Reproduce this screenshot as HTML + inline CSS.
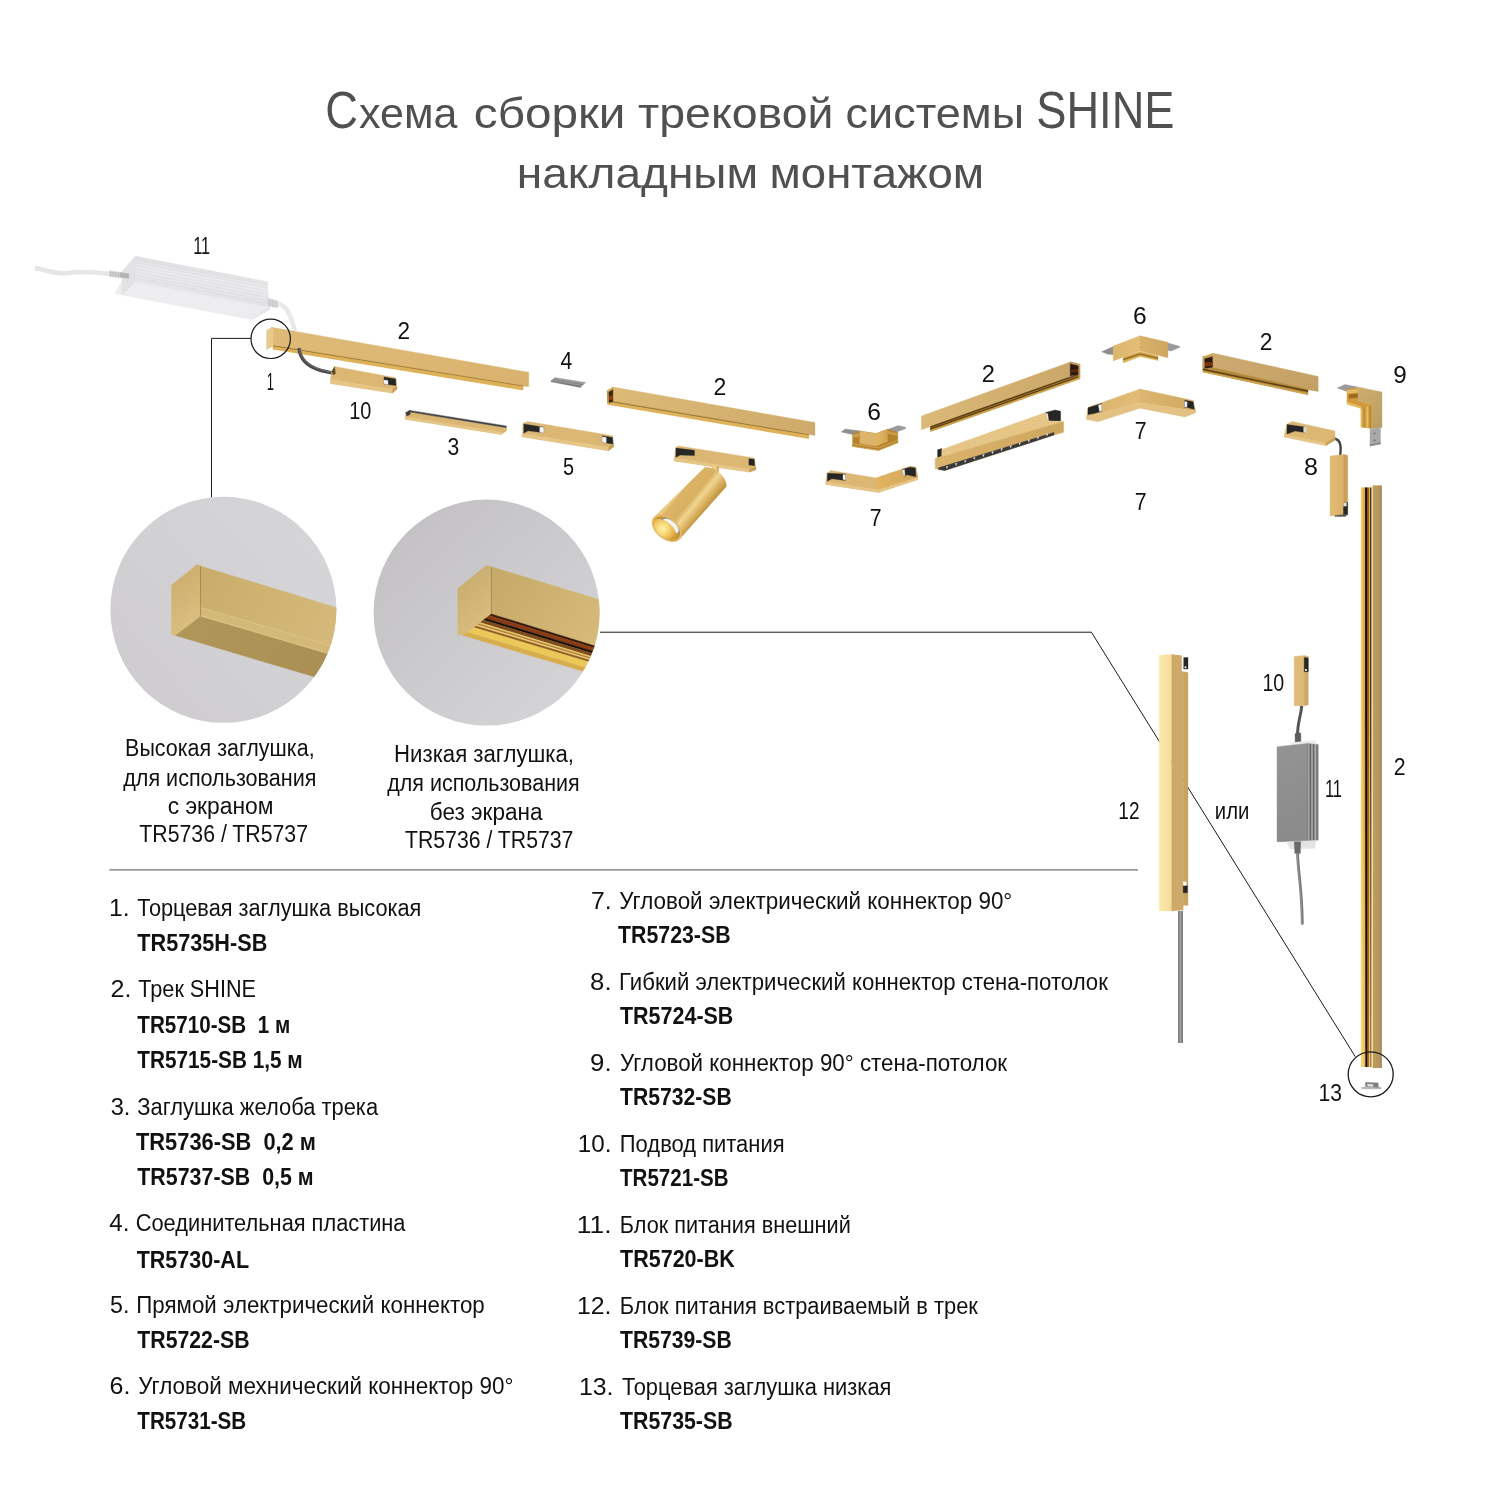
<!DOCTYPE html>
<html lang="ru"><head><meta charset="utf-8"><title>Схема сборки трековой системы SHINE</title>
<style>
html,body{margin:0;padding:0;background:#fff;}
body{width:1500px;height:1500px;overflow:hidden;font-family:"Liberation Sans", sans-serif;}
svg{display:block;font-family:"Liberation Sans", sans-serif;will-change:transform;}
</style></head><body>
<svg width="1500" height="1500" viewBox="0 0 1500 1500">
<defs><clipPath id="c1"><circle cx="223.4" cy="609.8" r="113"/></clipPath><clipPath id="c2"><circle cx="486.6" cy="612.6" r="113"/></clipPath><linearGradient id="c1bg" gradientUnits="userSpaceOnUse" x1="120" y1="700" x2="330" y2="520"><stop offset="0" stop-color="#cecccf"/><stop offset="1" stop-color="#d6d5d8"/></linearGradient><linearGradient id="c2bg" gradientUnits="userSpaceOnUse" x1="400" y1="520" x2="580" y2="710"><stop offset="0" stop-color="#c3c1c4"/><stop offset="1" stop-color="#d5d4d7"/></linearGradient><linearGradient id="c1e" gradientUnits="userSpaceOnUse" x1="172" y1="590" x2="200" y2="625"><stop offset="0" stop-color="#cfb272"/><stop offset="1" stop-color="#dcc081"/></linearGradient><linearGradient id="c1u" gradientUnits="userSpaceOnUse" x1="200" y1="570" x2="340" y2="640"><stop offset="0" stop-color="#c8ad6a"/><stop offset="1" stop-color="#d6ba7b"/></linearGradient><linearGradient id="c1b" gradientUnits="userSpaceOnUse" x1="180" y1="630" x2="330" y2="680"><stop offset="0" stop-color="#b19659"/><stop offset="1" stop-color="#a98f53"/></linearGradient><linearGradient id="c2e" gradientUnits="userSpaceOnUse" x1="458" y1="590" x2="491" y2="625"><stop offset="0" stop-color="#caaf70"/><stop offset="1" stop-color="#dbbf80"/></linearGradient><linearGradient id="c2u" gradientUnits="userSpaceOnUse" x1="491" y1="570" x2="600" y2="640"><stop offset="0" stop-color="#c5a967"/><stop offset="1" stop-color="#d7bb7b"/></linearGradient><linearGradient id="psuT" gradientUnits="userSpaceOnUse" x1="135" y1="258" x2="131" y2="282"><stop offset="0" stop-color="#e1e1e4"/><stop offset="0.35" stop-color="#ebebed"/><stop offset="1" stop-color="#e4e4e7"/></linearGradient><linearGradient id="t1" gradientUnits="userSpaceOnUse" x1="272" y1="330" x2="528" y2="380"><stop offset="0" stop-color="#dfba77"/><stop offset="1" stop-color="#d9b36e"/></linearGradient><linearGradient id="t2" gradientUnits="userSpaceOnUse" x1="613" y1="390" x2="815" y2="430"><stop offset="0" stop-color="#ddb976"/><stop offset="1" stop-color="#ceab6b"/></linearGradient><linearGradient id="stem" gradientUnits="userSpaceOnUse" x1="712" y1="0" x2="718.6" y2="0"><stop offset="0" stop-color="#e9c46f"/><stop offset="0.5" stop-color="#f3d58c"/><stop offset="1" stop-color="#c99a42"/></linearGradient><linearGradient id="cyl" gradientUnits="userSpaceOnUse" x1="679" y1="492.5" x2="703.5" y2="512.5"><stop offset="0" stop-color="#ecca82"/><stop offset="0.07" stop-color="#dcb466"/><stop offset="0.45" stop-color="#d9b062"/><stop offset="0.62" stop-color="#f0d692"/><stop offset="0.76" stop-color="#e2bd70"/><stop offset="0.9" stop-color="#cfa552"/><stop offset="1" stop-color="#c39644"/></linearGradient><clipPath id="spotc"><ellipse cx="0" cy="0.2" rx="15.5" ry="9.5"/></clipPath><radialGradient id="cylw" gradientUnits="userSpaceOnUse" cx="-3" cy="3" r="14"><stop offset="0" stop-color="#fff2a2"/><stop offset="0.45" stop-color="#f6d676"/><stop offset="0.85" stop-color="#e2ae4a"/><stop offset="1" stop-color="#d39a3a"/></radialGradient><linearGradient id="c6r" gradientUnits="userSpaceOnUse" x1="876" y1="0" x2="888" y2="0"><stop offset="0" stop-color="#e4b860"/><stop offset="1" stop-color="#cfa458"/></linearGradient><linearGradient id="c7r" gradientUnits="userSpaceOnUse" x1="876" y1="0" x2="918" y2="0"><stop offset="0" stop-color="#e2b45e"/><stop offset="1" stop-color="#d3a85e"/></linearGradient><linearGradient id="t3" gradientUnits="userSpaceOnUse" x1="921" y1="420" x2="1070" y2="368"><stop offset="0" stop-color="#dbb979"/><stop offset="1" stop-color="#caa869"/></linearGradient><linearGradient id="ll" gradientUnits="userSpaceOnUse" x1="935" y1="462" x2="1063" y2="426"><stop offset="0" stop-color="#dab36c"/><stop offset="1" stop-color="#cfa65e"/></linearGradient><linearGradient id="c62l" gradientUnits="userSpaceOnUse" x1="1113" y1="0" x2="1140" y2="0"><stop offset="0" stop-color="#dcb56e"/><stop offset="1" stop-color="#e4be78"/></linearGradient><linearGradient id="c62r" gradientUnits="userSpaceOnUse" x1="1140" y1="0" x2="1168" y2="0"><stop offset="0" stop-color="#d8b06a"/><stop offset="1" stop-color="#cfa660"/></linearGradient><linearGradient id="c72l" gradientUnits="userSpaceOnUse" x1="1088" y1="0" x2="1140" y2="0"><stop offset="0" stop-color="#d9b26c"/><stop offset="1" stop-color="#e3bd78"/></linearGradient><linearGradient id="c72r" gradientUnits="userSpaceOnUse" x1="1140" y1="0" x2="1195" y2="0"><stop offset="0" stop-color="#dcb670"/><stop offset="1" stop-color="#d0a862"/></linearGradient><linearGradient id="t4" gradientUnits="userSpaceOnUse" x1="1212" y1="356" x2="1318" y2="384"><stop offset="0" stop-color="#cdab70"/><stop offset="1" stop-color="#c3a165"/></linearGradient><linearGradient id="p9c" gradientUnits="userSpaceOnUse" x1="1361" y1="0" x2="1372.5" y2="0"><stop offset="0" stop-color="#e6bc62"/><stop offset="0.3" stop-color="#c08a30"/><stop offset="0.55" stop-color="#e8c068"/><stop offset="0.8" stop-color="#b88228"/><stop offset="1" stop-color="#d9ae55"/></linearGradient><linearGradient id="p9f" gradientUnits="userSpaceOnUse" x1="1358" y1="390" x2="1382" y2="425"><stop offset="0" stop-color="#cdac70"/><stop offset="1" stop-color="#bd9d61"/></linearGradient><linearGradient id="p8v" gradientUnits="userSpaceOnUse" x1="1330" y1="0" x2="1344" y2="0"><stop offset="0" stop-color="#e3bc74"/><stop offset="1" stop-color="#d9b068"/></linearGradient><linearGradient id="vtl" gradientUnits="userSpaceOnUse" x1="1360.8" y1="0" x2="1371.6" y2="0"><stop offset="0" stop-color="#fbe08a"/><stop offset="0.07" stop-color="#f7cc52"/><stop offset="0.2" stop-color="#f0c04c"/><stop offset="0.24" stop-color="#dbb270"/><stop offset="0.4" stop-color="#c89a54"/><stop offset="0.44" stop-color="#1a0a02"/><stop offset="0.55" stop-color="#1a0a02"/><stop offset="0.57" stop-color="#8c4c1a"/><stop offset="0.72" stop-color="#a2601e"/><stop offset="0.75" stop-color="#e8b252"/><stop offset="0.85" stop-color="#e8b252"/><stop offset="0.88" stop-color="#46362a"/><stop offset="1" stop-color="#46362a"/></linearGradient><linearGradient id="vtr" gradientUnits="userSpaceOnUse" x1="1371.6" y1="0" x2="1381.9" y2="0"><stop offset="0" stop-color="#f7e09a"/><stop offset="0.14" stop-color="#f0d488"/><stop offset="0.18" stop-color="#bc9e64"/><stop offset="0.7" stop-color="#b3945c"/><stop offset="1" stop-color="#a68a54"/></linearGradient><linearGradient id="vtb" gradientUnits="userSpaceOnUse" x1="0" y1="880" x2="0" y2="1067"><stop offset="0" stop-color="#fff2b0"/><stop offset="1" stop-color="#fff2b0"/></linearGradient><linearGradient id="vfade" gradientUnits="userSpaceOnUse" x1="0" y1="700" x2="0" y2="1067"><stop offset="0" stop-color="#ffe68a" stop-opacity="0"/><stop offset="1" stop-color="#ffe68a" stop-opacity="0.45"/></linearGradient><linearGradient id="p12l" gradientUnits="userSpaceOnUse" x1="1159" y1="0" x2="1171.7" y2="0"><stop offset="0" stop-color="#fce8ac"/><stop offset="1" stop-color="#f6dc9a"/></linearGradient><linearGradient id="cab12" gradientUnits="userSpaceOnUse" x1="1178.1" y1="0" x2="1182.9" y2="0"><stop offset="0" stop-color="#6a6a6a"/><stop offset="0.5" stop-color="#a2a2a2"/><stop offset="1" stop-color="#666"/></linearGradient><linearGradient id="psug" gradientUnits="userSpaceOnUse" x1="1277" y1="750" x2="1307" y2="840"><stop offset="0" stop-color="#939393"/><stop offset="1" stop-color="#8a8a8a"/></linearGradient><linearGradient id="ribs" gradientUnits="userSpaceOnUse" x1="1307.5" y1="0" x2="1318.3" y2="0"><stop offset="0" stop-color="#6a6a6a"/><stop offset="0.12" stop-color="#b4b4b4"/><stop offset="0.26" stop-color="#5c5c5c"/><stop offset="0.42" stop-color="#b8b8b8"/><stop offset="0.56" stop-color="#606060"/><stop offset="0.72" stop-color="#bcbcbc"/><stop offset="0.86" stop-color="#6e6e6e"/><stop offset="1" stop-color="#8a8a8a"/></linearGradient></defs>
<line x1="109.3" y1="869.9" x2="1138" y2="869.9" stroke="#707070" stroke-width="1.4"/>
<path d="M251,338.4 H211.5 V497.5" fill="none" stroke="#1a1a1a" stroke-width="1.0"/>
<path d="M600,632.2 H1091.4 L1355.3,1056.7" fill="none" stroke="#1a1a1a" stroke-width="1.0"/>
<circle cx="223.4" cy="609.8" r="113" fill="url(#c1bg)"/>
<circle cx="486.6" cy="612.6" r="113" fill="url(#c2bg)"/>
<g clip-path="url(#c1)">
<polygon points="171.4,585.2 197.0,564.4 200.5,566.0 200.5,616.4 175.4,635.6 171.4,634.8" fill="url(#c1e)" stroke="url(#c1e)" stroke-width="0.35" stroke-linejoin="round" />
<polygon points="200.5,566.0 345.0,610.1 345.0,649.7 200.5,607.6" fill="url(#c1u)" stroke="url(#c1u)" stroke-width="0.35" stroke-linejoin="round" />
<polygon points="200.5,607.6 345.0,649.7 345.0,659.2 200.5,616.4" fill="#d4b878" stroke="#d4b878" stroke-width="0.35" stroke-linejoin="round" />
<polygon points="200.5,615.6 345.0,658.4 345.0,659.4 200.5,616.6" fill="#e6cf92" stroke="#e6cf92" stroke-width="0.35" stroke-linejoin="round" />
<polygon points="200.5,607.3 345.0,649.4 345.0,650.0 200.5,607.9" fill="#dcc488" stroke="#dcc488" stroke-width="0.35" stroke-linejoin="round" />
<polygon points="175.4,635.6 200.5,616.4 345.0,659.2 345.0,685.9" fill="url(#c1b)" stroke="url(#c1b)" stroke-width="0.35" stroke-linejoin="round" />
<line x1="200.5" y1="566" x2="200.5" y2="616.4" stroke="#8d7540" stroke-width="0.6"/>
</g>
<g clip-path="url(#c2)">
<polygon points="457.8,588.4 486.6,565.2 491.4,566.8 491.4,614.0 463.4,635.6 457.8,634.8" fill="url(#c2e)" stroke="url(#c2e)" stroke-width="0.35" stroke-linejoin="round" />
<polygon points="491.4,566.8 610.0,602.9 610.0,650.5 491.4,614.0" fill="url(#c2u)" stroke="url(#c2u)" stroke-width="0.35" stroke-linejoin="round" />
<polygon points="491.4,614.0 610.0,650.5 610.0,652.7 489.3,615.6" fill="#3a1a0a" stroke="#3a1a0a" stroke-width="0.35" stroke-linejoin="round" />
<polygon points="489.3,615.6 610.0,652.7 610.0,656.5 485.5,618.5" fill="#8a3c14" stroke="#8a3c14" stroke-width="0.35" stroke-linejoin="round" />
<polygon points="485.5,618.5 610.0,656.5 610.0,658.6 483.6,620.0" fill="#140c06" stroke="#140c06" stroke-width="0.35" stroke-linejoin="round" />
<polygon points="483.6,620.0 610.0,658.6 610.0,662.0 480.2,622.6" fill="#7c4c1a" stroke="#7c4c1a" stroke-width="0.35" stroke-linejoin="round" />
<polygon points="480.2,622.6 610.0,662.0 610.0,663.5 478.8,623.7" fill="#ecc870" stroke="#ecc870" stroke-width="0.35" stroke-linejoin="round" />
<polygon points="478.8,623.7 610.0,663.5 610.0,664.9 477.4,624.8" fill="#b07c28" stroke="#b07c28" stroke-width="0.35" stroke-linejoin="round" />
<polygon points="477.4,624.8 610.0,664.9 610.0,666.3 476.0,625.9" fill="#f0d080" stroke="#f0d080" stroke-width="0.35" stroke-linejoin="round" />
<polygon points="476.0,625.9 610.0,666.3 610.0,668.3 474.0,627.4" fill="#8e5e1e" stroke="#8e5e1e" stroke-width="0.35" stroke-linejoin="round" />
<polygon points="474.0,627.4 610.0,668.3 610.0,675.0 467.6,632.4" fill="#ecc858" stroke="#ecc858" stroke-width="0.35" stroke-linejoin="round" />
<polygon points="467.6,632.4 610.0,675.0 610.0,679.3 463.4,635.6" fill="#d8ae4c" stroke="#d8ae4c" stroke-width="0.35" stroke-linejoin="round" />
<line x1="491.4" y1="566.8" x2="491.4" y2="614" stroke="#8d7540" stroke-width="0.6"/>
</g>
<path d="M35,268 C48,270 55,275 68,273 S95,272 110,274" stroke="#e6e6e6" stroke-width="4.6" fill="none" stroke-linecap="butt"/>
<path d="M277,303.5 C288,305 291,318 295,331" stroke="#e9e9e9" stroke-width="4.6" fill="none"/>
<polygon points="114.7,293.7 252.0,319.7 270.5,309.0 267.3,281.7 135.3,256.3 131.5,260.0 122.0,281.0" fill="#ededef" stroke="#ededef" stroke-width="0.35" stroke-linejoin="round" />
<polygon points="135.3,256.3 267.3,281.7 267.3,307.0 135.3,281.5" fill="url(#psuT)" stroke="url(#psuT)" stroke-width="0.35" stroke-linejoin="round" />
<polygon points="135.3,256.3 122.0,271.6 122.0,295.0 135.3,281.5" fill="#e3e3e6" stroke="#e3e3e6" stroke-width="0.35" stroke-linejoin="round" />
<line x1="135.5" y1="259.4" x2="267.3" y2="284.8" stroke="#dadadd" stroke-width="0.6"/>
<line x1="135.5" y1="262.5" x2="267.3" y2="287.9" stroke="#dadadd" stroke-width="0.6"/>
<line x1="135.5" y1="265.6" x2="267.3" y2="291.0" stroke="#dadadd" stroke-width="0.6"/>
<line x1="135.5" y1="268.7" x2="267.3" y2="294.1" stroke="#dadadd" stroke-width="0.6"/>
<line x1="135.5" y1="271.8" x2="267.3" y2="297.2" stroke="#dadadd" stroke-width="0.6"/>
<line x1="135.5" y1="274.9" x2="267.3" y2="300.3" stroke="#dadadd" stroke-width="0.6"/>
<line x1="135.5" y1="278.0" x2="267.3" y2="303.4" stroke="#dadadd" stroke-width="0.6"/>
<polygon points="252.0,319.7 267.3,307.0 270.5,309.0" fill="#e6e6e9" stroke="#e6e6e9" stroke-width="0.35" stroke-linejoin="round" />
<polygon points="109.3,271.0 128.7,273.7 128.7,278.3 109.3,276.3" fill="#cdcdcd" stroke="#cdcdcd" stroke-width="0.35" stroke-linejoin="round" />
<polygon points="120.0,272.4 128.7,273.7 128.7,278.3 120.0,277.3" fill="#b4b4b4" stroke="#b4b4b4" stroke-width="0.35" stroke-linejoin="round" />
<line x1="110.5" y1="270.6" x2="110.5" y2="277.0" stroke="#bdbdbd" stroke-width="0.8"/>
<line x1="113.1" y1="271.0" x2="113.1" y2="277.4" stroke="#bdbdbd" stroke-width="0.8"/>
<line x1="115.7" y1="271.3" x2="115.7" y2="277.7" stroke="#bdbdbd" stroke-width="0.8"/>
<line x1="118.3" y1="271.7" x2="118.3" y2="278.1" stroke="#bdbdbd" stroke-width="0.8"/>
<polygon points="267.3,298.3 278.0,301.0 278.0,307.7 267.3,305.7" fill="#d6d6d6" stroke="#d6d6d6" stroke-width="0.35" stroke-linejoin="round" />
<line x1="270.0" y1="298.6" x2="270.0" y2="306.6" stroke="#c4c4c4" stroke-width="0.8"/>
<line x1="272.6" y1="299.2" x2="272.6" y2="307.2" stroke="#c4c4c4" stroke-width="0.8"/>
<line x1="275.2" y1="299.9" x2="275.2" y2="307.9" stroke="#c4c4c4" stroke-width="0.8"/>
<polygon points="271.5,327.2 528.8,372.3 528.8,386.8 523.0,386.0 523.0,390.0 273.0,349.0 273.0,345.0" fill="url(#t1)" stroke="url(#t1)" stroke-width="0.35" stroke-linejoin="round" />
<polygon points="273.0,345.5 523.0,385.8 523.0,386.6 273.0,346.5" fill="#9a7432" stroke="#9a7432" stroke-width="0.35" stroke-linejoin="round" />
<polygon points="273.0,346.6 523.0,386.6 523.0,390.0 273.0,349.2" fill="#DEB258" stroke="#DEB258" stroke-width="0.35" stroke-linejoin="round" />
<polygon points="266.5,330.5 271.5,327.2 273.0,328.0 273.0,346.0 266.5,349.7" fill="#e7ca8e" stroke="#e7ca8e" stroke-width="0.35" stroke-linejoin="round" />
<path d="M299,348 C300,360 309,367 321,370.5 L333,373.2" stroke="#4a4a4a" stroke-width="3.4" fill="none"/>
<path d="M299.6,348 C300.6,359.5 309.5,366.2 321.3,369.7 L333,372.4" stroke="#777" stroke-width="0.9" fill="none"/>
<polygon points="334.5,366.5 396.0,377.8 397.0,389.0 392.5,393.0 330.5,383.5 330.5,379.0 332.0,371.0" fill="#DCB774" stroke="#DCB774" stroke-width="0.35" stroke-linejoin="round" />
<polygon points="330.5,379.2 392.5,389.6 392.5,393.0 330.5,383.5" fill="#E6C687" stroke="#E6C687" stroke-width="0.35" stroke-linejoin="round" />
<polygon points="392.5,389.6 396.9,386.3 397.0,389.0 392.5,393.0" fill="#C59E58" stroke="#C59E58" stroke-width="0.35" stroke-linejoin="round" />
<polygon points="384.0,377.0 395.6,379.0 396.0,385.6 384.0,384.0" fill="#262626" stroke="#262626" stroke-width="0.35" stroke-linejoin="round" />
<polygon points="384.0,380.0 388.0,380.6 388.0,384.4 384.0,383.8" fill="#f2f2f2" stroke="#f2f2f2" stroke-width="0.35" stroke-linejoin="round" />
<polygon points="332.0,371.0 334.5,366.8 335.5,373.5 333.0,375.0" fill="#5b4a2a" stroke="#5b4a2a" stroke-width="0.35" stroke-linejoin="round" />
<polygon points="405.4,415.2 410.2,411.7 506.2,427.7 507.0,430.4 501.4,434.4 405.4,419.2" fill="#DCB774" stroke="#DCB774" stroke-width="0.35" stroke-linejoin="round" />
<polygon points="405.4,416.8 501.4,432.0 501.4,434.4 405.4,419.2" fill="#E6C687" stroke="#E6C687" stroke-width="0.35" stroke-linejoin="round" />
<polygon points="410.2,410.4 506.4,425.9 506.4,427.7 410.2,412.1" fill="#444" stroke="#444" stroke-width="0.35" stroke-linejoin="round" />
<polygon points="405.4,412.8 410.2,410.1 410.2,414.4 406.8,416.0" fill="#3c3c3c" stroke="#3c3c3c" stroke-width="0.35" stroke-linejoin="round" />
<polygon points="551.0,380.8 555.0,377.6 585.7,382.4 580.6,387.2" fill="#9b9b9b" stroke="#9b9b9b" stroke-width="0.35" stroke-linejoin="round" />
<polygon points="551.0,380.8 580.6,386.0 580.6,387.4 551.0,381.8" fill="#777" stroke="#777" stroke-width="0.35" stroke-linejoin="round" />
<line x1="553" y1="379.3" x2="583" y2="384.6" stroke="#7e7e7e" stroke-width="0.8"/>
<polygon points="523.0,423.2 527.8,421.6 612.6,435.7 613.9,446.4 608.6,450.7 522.2,436.8" fill="#DCB774" stroke="#DCB774" stroke-width="0.35" stroke-linejoin="round" />
<polygon points="522.2,433.4 608.6,447.3 608.6,450.7 522.2,436.8" fill="#E6C687" stroke="#E6C687" stroke-width="0.35" stroke-linejoin="round" />
<polygon points="608.6,447.3 613.8,443.5 613.9,446.4 608.6,450.7" fill="#C59E58" stroke="#C59E58" stroke-width="0.35" stroke-linejoin="round" />
<polygon points="523.8,424.0 543.8,427.2 543.8,432.8 528.0,430.8 523.8,433.2" fill="#262626" stroke="#262626" stroke-width="0.35" stroke-linejoin="round" />
<polygon points="539.8,427.0 543.8,427.6 543.8,432.8 539.8,432.2" fill="#f2f2f2" stroke="#f2f2f2" stroke-width="0.35" stroke-linejoin="round" />
<polygon points="602.2,435.7 612.6,437.6 612.9,444.0 602.2,442.4" fill="#262626" stroke="#262626" stroke-width="0.35" stroke-linejoin="round" />
<polygon points="602.2,436.8 606.2,437.5 606.2,442.9 602.2,442.3" fill="#f2f2f2" stroke="#f2f2f2" stroke-width="0.35" stroke-linejoin="round" />
<polygon points="612.9,387.1 815.0,422.5 815.0,435.6 808.6,434.6 808.6,438.5 607.8,404.0 607.3,391.0" fill="url(#t2)" stroke="url(#t2)" stroke-width="0.35" stroke-linejoin="round" />
<polygon points="607.3,391.0 612.9,388.5 612.9,401.7 607.8,403.4" fill="#3a2410" stroke="#3a2410" stroke-width="0.35" stroke-linejoin="round" />
<polygon points="612.9,401.4 808.6,434.5 808.6,435.3 612.9,402.3" fill="#9a7432" stroke="#9a7432" stroke-width="0.35" stroke-linejoin="round" />
<polygon points="607.8,402.6 808.6,435.3 808.6,438.5 607.8,404.6" fill="#DEB258" stroke="#DEB258" stroke-width="0.35" stroke-linejoin="round" />
<polygon points="607.3,390.6 612.9,387.3 612.9,389.4 608.2,392.0" fill="#d2a85c" stroke="#d2a85c" stroke-width="0.35" stroke-linejoin="round" />
<polygon points="607.8,396.4 612.9,395.4 612.9,399.2 607.8,400.4" fill="#8a3c14" stroke="#8a3c14" stroke-width="0.35" stroke-linejoin="round" />
<polygon points="607.3,391.0 608.4,390.6 608.6,403.4 607.6,403.6" fill="#d9ae5c" stroke="#d9ae5c" stroke-width="0.35" stroke-linejoin="round" />
<polygon points="675.9,447.1 679.1,446.0 754.3,457.9 755.9,467.3 755.9,469.5 749.5,472.1 674.3,460.9 674.3,458.3" fill="#DCB774" stroke="#DCB774" stroke-width="0.35" stroke-linejoin="round" />
<polygon points="674.3,458.0 749.5,469.3 749.5,472.1 674.3,460.9" fill="#E6C687" stroke="#E6C687" stroke-width="0.35" stroke-linejoin="round" />
<polygon points="749.5,469.3 755.9,466.9 755.9,469.5 749.5,472.1" fill="#C59E58" stroke="#C59E58" stroke-width="0.35" stroke-linejoin="round" />
<polygon points="675.9,448.1 694.5,450.3 694.5,455.6 680.1,455.1 675.9,457.2" fill="#262626" stroke="#262626" stroke-width="0.35" stroke-linejoin="round" />
<polygon points="748.9,458.8 754.3,459.3 754.6,465.7 748.9,465.0" fill="#262626" stroke="#262626" stroke-width="0.35" stroke-linejoin="round" />
<polygon points="712.0,465.5 718.6,466.5 718.6,476.0 712.0,472.0" fill="url(#stem)" stroke="url(#stem)" stroke-width="0.35" stroke-linejoin="round" />
<path d="M704.7,467.3 L653.5,517.5 A17,10.8 38.7 0 0 680.1,538.8 L726.5,486.5 C727.5,478 716,466.5 704.7,467.3 Z" fill="url(#cyl)"/>
<g transform="translate(666.8,528.2) rotate(38.7)">
<ellipse cx="0" cy="0" rx="17" ry="10.8" fill="#e4bb66"/>
<g clip-path="url(#spotc)">
<ellipse cx="0" cy="0.2" rx="15.5" ry="9.5" fill="#c6923a"/>
<ellipse cx="1.5" cy="-4.0" rx="10.8" ry="6.6" fill="#8e8e8e"/>
<ellipse cx="1.5" cy="-3.6" rx="9.8" ry="5.7" fill="#f3f3f3"/>
<ellipse cx="-1.2" cy="3.8" rx="14.6" ry="9.2" fill="url(#cylw)"/>
</g></g>
<polygon points="841.0,432.0 845.4,429.0 861.0,431.0 852.6,434.4" fill="#8e8e8e" stroke="#8e8e8e" stroke-width="0.35" stroke-linejoin="round" />
<polygon points="887.4,429.6 898.2,425.6 905.8,427.2 905.4,428.8 896.6,432.0 889.0,431.6" fill="#9a9a9a" stroke="#9a9a9a" stroke-width="0.35" stroke-linejoin="round" />
<polygon points="852.6,434.0 859.8,431.0 876.2,433.6 887.4,429.2 897.8,432.0 897.8,442.8 878.6,450.4 852.6,446.4" fill="#b5822c" stroke="#b5822c" stroke-width="0.35" stroke-linejoin="round" />
<polygon points="859.8,431.0 876.2,433.6 876.2,446.0 859.8,443.6" fill="#ddb46c" stroke="#ddb46c" stroke-width="0.35" stroke-linejoin="round" />
<polygon points="876.2,433.6 887.4,429.2 887.4,441.6 876.2,446.0" fill="url(#c6r)" stroke="url(#c6r)" stroke-width="0.35" stroke-linejoin="round" />
<polygon points="852.6,443.6 878.6,447.6 897.8,440.2 897.8,442.8 878.6,450.4 852.6,446.4" fill="#d4a850" stroke="#d4a850" stroke-width="0.35" stroke-linejoin="round" />
<polygon points="852.6,444.8 878.6,448.8 897.8,441.3 897.8,441.9 878.6,449.5 852.6,445.5" fill="#a87a2c" stroke="#a87a2c" stroke-width="0.35" stroke-linejoin="round" />
<polygon points="852.6,434.4 859.8,433.4 859.8,436.4 852.6,437.4" fill="#caa050" stroke="#caa050" stroke-width="0.35" stroke-linejoin="round" />
<polygon points="887.4,431.2 897.8,433.6 897.8,435.6 887.4,433.4" fill="#caa050" stroke="#caa050" stroke-width="0.35" stroke-linejoin="round" />
<polygon points="827.0,473.2 831.0,470.4 876.2,478.0 910.2,466.4 915.8,467.2 917.8,478.0 917.8,479.6 878.6,492.4 825.8,484.4 825.8,482.0" fill="#DCB774" stroke="#DCB774" stroke-width="0.35" stroke-linejoin="round" />
<polygon points="876.2,478.0 910.2,466.4 915.8,467.2 917.8,477.6 876.2,490.0" fill="url(#c7r)" stroke="url(#c7r)" stroke-width="0.35" stroke-linejoin="round" />
<polygon points="825.8,481.8 878.6,489.8 917.8,477.4 917.8,479.6 878.6,492.4 825.8,484.4" fill="#E6C687" stroke="#E6C687" stroke-width="0.35" stroke-linejoin="round" />
<polygon points="827.4,473.2 845.4,474.0 845.4,480.4 831.8,478.8 827.4,481.2" fill="#262626" stroke="#262626" stroke-width="0.35" stroke-linejoin="round" />
<polygon points="843.0,474.6 845.4,474.8 845.4,480.0 843.0,479.6" fill="#f2f2f2" stroke="#f2f2f2" stroke-width="0.35" stroke-linejoin="round" />
<polygon points="902.6,469.2 910.2,467.2 915.4,468.0 915.8,476.8 907.0,474.8 903.8,476.4" fill="#262626" stroke="#262626" stroke-width="0.35" stroke-linejoin="round" />
<polygon points="902.6,470.0 904.4,469.6 905.0,475.4 903.6,476.0" fill="#f2f2f2" stroke="#f2f2f2" stroke-width="0.35" stroke-linejoin="round" />
<polygon points="921.4,416.0 1070.2,362.0 1070.2,377.0 921.4,429.8" fill="url(#t3)" stroke="url(#t3)" stroke-width="0.35" stroke-linejoin="round" />
<polygon points="930.4,426.5 1079.8,373.4 1079.8,378.8 930.4,431.6" fill="#b48a3a" stroke="#b48a3a" stroke-width="0.35" stroke-linejoin="round" />
<polygon points="930.4,426.5 1079.8,373.4 1079.8,374.6 930.4,427.8" fill="#5a3d14" stroke="#5a3d14" stroke-width="0.35" stroke-linejoin="round" />
<polygon points="930.4,428.6 1079.8,375.8 1079.8,376.8 930.4,429.6" fill="#5a3d14" stroke="#5a3d14" stroke-width="0.35" stroke-linejoin="round" />
<polygon points="930.4,430.4 1079.8,377.6 1079.8,378.8 930.4,431.6" fill="#d2a652" stroke="#d2a652" stroke-width="0.35" stroke-linejoin="round" />
<polygon points="1070.2,362.0 1079.8,364.4 1079.8,374.0 1070.2,376.0" fill="#2a1a0e" stroke="#2a1a0e" stroke-width="0.35" stroke-linejoin="round" />
<polygon points="1070.2,362.0 1079.8,364.4 1079.8,365.8 1070.2,363.6" fill="#d2a85c" stroke="#d2a85c" stroke-width="0.35" stroke-linejoin="round" />
<polygon points="1071.4,370.0 1078.6,369.2 1078.6,371.6 1071.4,372.4" fill="#5a2a0e" stroke="#5a2a0e" stroke-width="0.35" stroke-linejoin="round" />
<polygon points="1078.6,364.2 1079.8,364.4 1079.8,378.8 1078.6,378.6" fill="#d2a85c" stroke="#d2a85c" stroke-width="0.35" stroke-linejoin="round" />
<polygon points="937.6,449.8 941.8,448.4 941.8,457.2 937.6,458.4" fill="#262626" stroke="#262626" stroke-width="0.35" stroke-linejoin="round" />
<polygon points="1045.6,412.4 1055.2,410.0 1060.6,411.2 1060.6,421.0 1048.0,421.6" fill="#262626" stroke="#262626" stroke-width="0.35" stroke-linejoin="round" />
<polygon points="1045.6,413.8 1047.6,413.4 1048.6,420.4 1046.8,420.8" fill="#f2f2f2" stroke="#f2f2f2" stroke-width="0.35" stroke-linejoin="round" />
<polygon points="941.8,449.6 1045.6,412.4 1048.0,420.8 1063.6,421.4 935.2,458.6 941.8,456.2" fill="#E6C687" stroke="#E6C687" stroke-width="0.35" stroke-linejoin="round" />
<polygon points="935.2,458.6 1063.6,421.4 1063.6,432.2 1054.0,435.0 944.8,470.6 935.2,468.8" fill="url(#ll)" stroke="url(#ll)" stroke-width="0.35" stroke-linejoin="round" />
<polygon points="938.5,467.8 1054.0,432.4 1054.0,435.0 944.8,470.6 938.5,469.5" fill="#3a3a3a" stroke="#3a3a3a" stroke-width="0.35" stroke-linejoin="round" />
<polygon points="946.0,466.6 948.2,465.9 946.9,469.0" fill="#e6e6e6"/>
<polygon points="955.1,463.6 957.3,462.9 956.0,466.0" fill="#e6e6e6"/>
<polygon points="964.2,460.7 966.4,460.0 965.1,463.1" fill="#e6e6e6"/>
<polygon points="973.3,457.7 975.5,457.0 974.2,460.1" fill="#e6e6e6"/>
<polygon points="982.4,454.8 984.6,454.1 983.3,457.2" fill="#e6e6e6"/>
<polygon points="991.5,451.8 993.7,451.1 992.4,454.2" fill="#e6e6e6"/>
<polygon points="1000.6,448.8 1002.8,448.1 1001.5,451.2" fill="#e6e6e6"/>
<polygon points="1009.7,445.9 1011.9,445.2 1010.6,448.3" fill="#e6e6e6"/>
<polygon points="1018.8,442.9 1021.0,442.2 1019.7,445.3" fill="#e6e6e6"/>
<polygon points="1027.9,440.0 1030.1,439.3 1028.8,442.4" fill="#e6e6e6"/>
<polygon points="1037.0,437.0 1039.2,436.3 1037.9,439.4" fill="#e6e6e6"/>
<polygon points="1046.1,434.0 1048.3,433.3 1047.0,436.4" fill="#e6e6e6"/>
<polygon points="1101.6,351.8 1113.2,346.4 1113.2,354.6 1108.0,354.2" fill="#8c8c8c" stroke="#8c8c8c" stroke-width="0.35" stroke-linejoin="round" />
<polygon points="1168.0,343.0 1179.6,346.2 1179.6,347.4 1171.2,351.0 1168.0,350.6" fill="#9a9a9a" stroke="#9a9a9a" stroke-width="0.35" stroke-linejoin="round" />
<polygon points="1123.2,357.0 1140.0,351.4 1158.0,355.8 1158.0,360.6 1140.0,356.6 1123.2,363.0" fill="#d9ad50" stroke="#d9ad50" stroke-width="0.35" stroke-linejoin="round" />
<polygon points="1123.2,359.0 1140.0,353.4 1158.0,357.8 1158.0,358.8 1140.0,354.6 1123.2,360.2" fill="#8a6424" stroke="#8a6424" stroke-width="0.35" stroke-linejoin="round" />
<polygon points="1113.2,346.0 1140.0,335.8 1140.0,351.0 1113.2,361.0" fill="url(#c62l)" stroke="url(#c62l)" stroke-width="0.35" stroke-linejoin="round" />
<polygon points="1140.0,335.8 1168.0,342.2 1168.0,357.8 1140.0,351.0" fill="url(#c62r)" stroke="url(#c62r)" stroke-width="0.35" stroke-linejoin="round" />
<polygon points="1088.0,407.4 1140.0,389.0 1140.0,402.8 1086.6,417.0" fill="url(#c72l)" stroke="url(#c72l)" stroke-width="0.35" stroke-linejoin="round" />
<polygon points="1140.0,389.0 1193.2,400.6 1195.6,411.0 1140.0,402.8" fill="url(#c72r)" stroke="url(#c72r)" stroke-width="0.35" stroke-linejoin="round" />
<polygon points="1086.4,417.0 1140.0,402.8 1195.6,411.0 1195.6,413.0 1184.8,417.0 1140.0,408.2 1098.0,421.8 1086.4,419.4" fill="#e2c183" stroke="#e2c183" stroke-width="0.35" stroke-linejoin="round" />
<polygon points="1088.0,407.8 1101.6,403.4 1101.6,411.4 1092.8,413.8 1088.0,414.6" fill="#262626" stroke="#262626" stroke-width="0.35" stroke-linejoin="round" />
<polygon points="1098.4,405.2 1101.6,404.2 1101.6,411.0 1099.6,411.6" fill="#f2f2f2" stroke="#f2f2f2" stroke-width="0.35" stroke-linejoin="round" />
<polygon points="1184.8,400.2 1193.2,401.8 1194.2,409.2 1187.2,407.4 1184.8,407.6" fill="#262626" stroke="#262626" stroke-width="0.35" stroke-linejoin="round" />
<polygon points="1184.8,401.6 1187.2,402.0 1186.8,407.2 1184.8,407.0" fill="#f2f2f2" stroke="#f2f2f2" stroke-width="0.35" stroke-linejoin="round" />
<polygon points="1212.5,353.0 1318.2,376.5 1318.2,391.5 1309.0,390.0 1212.5,368.0" fill="url(#t4)" stroke="url(#t4)" stroke-width="0.35" stroke-linejoin="round" />
<polygon points="1203.0,356.8 1212.5,356.0 1212.5,368.5 1203.0,369.6" fill="#2a1a0e" stroke="#2a1a0e" stroke-width="0.35" stroke-linejoin="round" />
<polygon points="1203.0,356.8 1212.5,353.5 1212.5,356.6 1204.4,358.4" fill="#c9a052" stroke="#c9a052" stroke-width="0.35" stroke-linejoin="round" />
<polygon points="1203.0,362.8 1212.5,362.0 1212.5,365.6 1203.0,366.4" fill="#7c3410" stroke="#7c3410" stroke-width="0.35" stroke-linejoin="round" />
<polygon points="1203.0,356.8 1204.4,356.8 1204.4,372.0 1203.0,372.0" fill="#c9a052" stroke="#c9a052" stroke-width="0.35" stroke-linejoin="round" />
<polygon points="1203.0,368.8 1212.5,367.6 1308.0,389.2 1308.0,394.8 1203.0,372.0" fill="#b48a3a" stroke="#b48a3a" stroke-width="0.35" stroke-linejoin="round" />
<polygon points="1203.0,368.8 1308.0,390.6 1308.0,391.8 1203.0,370.0" fill="#5a3d14" stroke="#5a3d14" stroke-width="0.35" stroke-linejoin="round" />
<polygon points="1203.0,370.9 1308.0,393.6 1308.0,394.8 1203.0,372.0" fill="#d2a652" stroke="#d2a652" stroke-width="0.35" stroke-linejoin="round" />
<polygon points="1337.0,388.0 1345.0,384.5 1358.0,387.0 1355.0,389.0 1347.0,389.0 1347.0,391.5" fill="#9b9b9b" stroke="#9b9b9b" stroke-width="0.35" stroke-linejoin="round" />
<polygon points="1347.0,389.0 1358.0,388.0 1358.0,400.5 1372.5,404.5 1372.5,428.5 1361.0,427.0 1361.0,408.0 1347.0,404.0" fill="#d29a3c" stroke="#d29a3c" stroke-width="0.35" stroke-linejoin="round" />
<polygon points="1347.0,390.2 1358.0,389.4 1358.0,392.4 1347.0,393.4" fill="#e6bc62" stroke="#e6bc62" stroke-width="0.35" stroke-linejoin="round" />
<polygon points="1349.0,394.4 1358.0,393.6 1358.0,397.4 1349.0,398.4" fill="#a26c1e" stroke="#a26c1e" stroke-width="0.35" stroke-linejoin="round" />
<polygon points="1361.0,408.5 1372.5,405.5 1372.5,428.5 1361.0,427.0" fill="url(#p9c)" stroke="url(#p9c)" stroke-width="0.35" stroke-linejoin="round" />
<polygon points="1347.0,402.0 1361.0,406.5 1361.0,408.6 1347.0,404.2" fill="#e6bc62" stroke="#e6bc62" stroke-width="0.35" stroke-linejoin="round" />
<polygon points="1358.0,387.0 1382.0,392.0 1382.0,427.5 1372.5,428.5 1372.5,404.5 1358.0,400.5" fill="url(#p9f)" stroke="url(#p9f)" stroke-width="0.35" stroke-linejoin="round" />
<polygon points="1370.0,429.0 1380.5,427.5 1380.5,444.0 1370.0,446.0" fill="#a9a9a9" stroke="#a9a9a9" stroke-width="0.35" stroke-linejoin="round" />
<circle cx="1374.6" cy="433.4" r="0.9" fill="#6f6f6f"/><circle cx="1374.6" cy="440.4" r="0.9" fill="#6f6f6f"/>
<polygon points="1370.0,444.4 1380.5,442.6 1380.5,444.0 1370.0,446.0" fill="#8a8a8a" stroke="#8a8a8a" stroke-width="0.35" stroke-linejoin="round" />
<path d="M1334.5,438.5 C1341.5,440 1341,448 1340.2,455" stroke="#454545" stroke-width="2.4" fill="none"/>
<polygon points="1287.0,424.0 1292.5,421.5 1335.0,431.0 1335.0,440.0 1326.0,445.5 1284.5,437.0 1284.5,434.5" fill="#DCB774" stroke="#DCB774" stroke-width="0.35" stroke-linejoin="round" />
<polygon points="1284.5,434.4 1326.0,443.0 1326.0,445.5 1284.5,437.0" fill="#E6C687" stroke="#E6C687" stroke-width="0.35" stroke-linejoin="round" />
<polygon points="1326.0,443.0 1335.0,437.4 1335.0,440.0 1326.0,445.5" fill="#C59E58" stroke="#C59E58" stroke-width="0.35" stroke-linejoin="round" />
<polygon points="1287.0,424.5 1305.0,427.0 1305.0,432.5 1295.0,431.0 1287.0,434.0" fill="#262626" stroke="#262626" stroke-width="0.35" stroke-linejoin="round" />
<polygon points="1303.6,427.0 1306.2,427.3 1306.2,432.6 1303.6,432.3" fill="#d8d8d8" stroke="#d8d8d8" stroke-width="0.35" stroke-linejoin="round" />
<polygon points="1330.0,456.0 1344.0,454.5 1344.0,515.0 1330.0,516.0" fill="url(#p8v)" stroke="url(#p8v)" stroke-width="0.35" stroke-linejoin="round" />
<polygon points="1344.0,454.5 1347.8,455.5 1347.8,514.5 1344.0,515.0" fill="#c8a058" stroke="#c8a058" stroke-width="0.35" stroke-linejoin="round" />
<polygon points="1343.5,503.0 1347.6,502.5 1347.6,514.5 1343.5,514.5" fill="#262626" stroke="#262626" stroke-width="0.35" stroke-linejoin="round" />
<polygon points="1343.5,503.0 1346.5,502.7 1346.5,506.0 1343.5,506.2" fill="#e0e0e0" stroke="#e0e0e0" stroke-width="0.35" stroke-linejoin="round" />
<polygon points="1335.0,515.4 1347.8,514.3 1345.5,516.6 1335.0,516.6" fill="#555" stroke="#555" stroke-width="0.35" stroke-linejoin="round" />
<rect x="1360.8" y="487.4" width="10.9" height="579.6" fill="url(#vtl)"/>
<rect x="1371.6" y="485.4" width="10.3" height="582.6" fill="url(#vtr)"/>
<rect x="1361" y="700" width="4.6" height="367" fill="url(#vfade)"/>
<rect x="1368.8" y="700" width="3.6" height="367" fill="url(#vfade)"/>
<circle cx="270.7" cy="338.8" r="19.7" fill="none" stroke="#1a1a1a" stroke-width="1.2"/>
<circle cx="1370.7" cy="1074.3" r="22.5" fill="none" stroke="#1a1a1a" stroke-width="1.3"/>
<polygon points="1361.2,1087.6 1366.0,1086.4 1378.4,1086.4 1381.7,1087.8 1381.0,1089.0 1362.0,1089.0" fill="#bdbdb8" stroke="#bdbdb8" stroke-width="0.35" stroke-linejoin="round" />
<polygon points="1365.5,1082.3 1371.0,1082.6 1378.3,1083.0 1378.3,1087.4 1365.5,1086.6" fill="#7f7f7f" stroke="#7f7f7f" stroke-width="0.35" stroke-linejoin="round" />
<polygon points="1367.6,1084.0 1373.0,1084.6 1373.0,1086.6 1367.6,1086.0" fill="#e6e6e6" stroke="#e6e6e6" stroke-width="0.35" stroke-linejoin="round" />
<polygon points="1159.2,655.3 1171.7,654.6 1171.7,911.0 1159.2,911.0" fill="url(#p12l)" stroke="url(#p12l)" stroke-width="0.35" stroke-linejoin="round" />
<polygon points="1171.7,654.6 1181.7,655.6 1181.7,671.7 1183.2,671.7 1183.2,910.0 1171.7,911.0" fill="#cdaa68" stroke="#cdaa68" stroke-width="0.35" stroke-linejoin="round" />
<polygon points="1183.2,671.7 1188.0,672.5 1188.0,905.3 1183.2,905.3" fill="#c8a462" stroke="#c8a462" stroke-width="0.35" stroke-linejoin="round" />
<polygon points="1183.7,657.5 1188.0,657.5 1188.0,669.0 1183.7,669.0" fill="#262626" stroke="#262626" stroke-width="0.35" stroke-linejoin="round" />
<rect x="1184.6" y="666.4" width="1.8" height="1.8" fill="#fff"/>
<polygon points="1183.2,885.6 1187.4,885.6 1187.4,892.8 1183.2,892.8" fill="#262626" stroke="#262626" stroke-width="0.35" stroke-linejoin="round" />
<rect x="1183.2" y="881.6" width="3.2" height="4" fill="#fff"/>
<rect x="1178.1" y="911" width="4.8" height="132" fill="url(#cab12)"/>
<polygon points="1294.2,656.4 1304.2,655.6 1304.2,705.8 1294.2,705.8" fill="#dfba78" stroke="#dfba78" stroke-width="0.35" stroke-linejoin="round" />
<polygon points="1304.2,655.6 1308.3,656.6 1308.3,705.0 1304.2,705.8" fill="#cfa866" stroke="#cfa866" stroke-width="0.35" stroke-linejoin="round" />
<polygon points="1304.2,657.5 1308.3,658.0 1308.3,671.7 1304.2,671.7" fill="#262626" stroke="#262626" stroke-width="0.35" stroke-linejoin="round" />
<rect x="1305" y="669" width="1.8" height="1.8" fill="#fff"/>
<path d="M1301.7,705.8 C1301,716 1297.6,722 1297.6,734" stroke="#555" stroke-width="3" fill="none"/>
<polygon points="1295.0,733.5 1300.8,733.0 1301.0,744.5 1295.2,745.0" fill="#5c5c5c" stroke="#5c5c5c" stroke-width="0.35" stroke-linejoin="round" />
<polygon points="1290.8,742.8 1315.8,740.0 1316.6,746.6 1291.0,747.6" fill="#ededed" stroke="#ededed" stroke-width="0.35" stroke-linejoin="round" />
<polygon points="1277.0,746.7 1307.5,743.4 1307.5,841.7 1277.0,841.7" fill="url(#psug)" stroke="url(#psug)" stroke-width="0.35" stroke-linejoin="round" />
<polygon points="1307.5,743.4 1318.3,744.4 1318.3,840.0 1307.5,841.7" fill="url(#ribs)" stroke="url(#ribs)" stroke-width="0.35" stroke-linejoin="round" />
<polygon points="1286.6,841.7 1315.8,840.4 1315.0,848.3 1290.0,849.0" fill="#e4e4e4" stroke="#e4e4e4" stroke-width="0.35" stroke-linejoin="round" />
<polygon points="1294.2,841.7 1300.8,841.7 1300.4,853.4 1294.8,853.4" fill="#6a6a6a" stroke="#6a6a6a" stroke-width="0.35" stroke-linejoin="round" />
<path d="M1297.6,853 C1297.8,872 1302,886 1302.3,924.5" stroke="#747474" stroke-width="2.8" fill="none"/>
<path d="M1297.2,853 C1297.4,872 1301.6,886 1301.9,924.5" stroke="#a0a0a0" stroke-width="0.8" fill="none"/>
<text fill="#505050"><tspan x="325.22" y="128.3" font-size="51" textLength="32.70" lengthAdjust="spacingAndGlyphs">С</tspan><tspan x="359.00" y="128.3" font-size="42" textLength="98.34" lengthAdjust="spacingAndGlyphs">хема</tspan> <tspan x="473.87" y="128.3" font-size="42" textLength="151.63" lengthAdjust="spacingAndGlyphs">сборки</tspan> <tspan x="638.00" y="128.3" font-size="42" textLength="195.42" lengthAdjust="spacingAndGlyphs">трековой</tspan> <tspan x="845.63" y="128.3" font-size="42" textLength="178.41" lengthAdjust="spacingAndGlyphs">системы</tspan> <tspan x="1036.23" y="128.3" font-size="51" textLength="138.26" lengthAdjust="spacingAndGlyphs">SHINE</tspan></text>
<text fill="#505050"><tspan x="516.81" y="188.0" font-size="42" textLength="241.35" lengthAdjust="spacingAndGlyphs">накладным</tspan> <tspan x="769.53" y="188.0" font-size="42" textLength="214.59" lengthAdjust="spacingAndGlyphs">монтажом</tspan></text>
<text fill="#111"><tspan x="108.93" y="916.0" font-size="23" textLength="20.56" lengthAdjust="spacingAndGlyphs">1.</tspan> <tspan x="137.30" y="916.0" font-size="23" textLength="284.07" lengthAdjust="spacingAndGlyphs">Торцевая заглушка высокая</tspan></text>
<text font-weight="bold" fill="#111"><tspan x="137.30" y="950.7" font-size="23" textLength="129.97" lengthAdjust="spacingAndGlyphs">TR5735H-SB</tspan></text>
<text fill="#111"><tspan x="110.61" y="996.7" font-size="23" textLength="20.90" lengthAdjust="spacingAndGlyphs">2.</tspan> <tspan x="138.30" y="996.7" font-size="23" textLength="117.72" lengthAdjust="spacingAndGlyphs">Трек SHINE</tspan></text>
<text font-weight="bold" fill="#111"><tspan x="137.30" y="1033.3" font-size="23" textLength="152.91" lengthAdjust="spacingAndGlyphs">TR5710-SB  1 м</tspan></text>
<text font-weight="bold" fill="#111"><tspan x="137.30" y="1068.3" font-size="23" textLength="165.32" lengthAdjust="spacingAndGlyphs">TR5715-SB 1,5 м</tspan></text>
<text fill="#111"><tspan x="110.70" y="1115.0" font-size="23" textLength="19.73" lengthAdjust="spacingAndGlyphs">3.</tspan> <tspan x="137.30" y="1115.0" font-size="23" textLength="240.80" lengthAdjust="spacingAndGlyphs">Заглушка желоба трека</tspan></text>
<text font-weight="bold" fill="#111"><tspan x="136.00" y="1150.0" font-size="23" textLength="179.96" lengthAdjust="spacingAndGlyphs">TR5736-SB  0,2 м</tspan></text>
<text font-weight="bold" fill="#111"><tspan x="137.30" y="1185.0" font-size="23" textLength="176.34" lengthAdjust="spacingAndGlyphs">TR5737-SB  0,5 м</tspan></text>
<text fill="#111"><tspan x="109.30" y="1231.0" font-size="23" textLength="20.16" lengthAdjust="spacingAndGlyphs">4.</tspan> <tspan x="135.75" y="1231.0" font-size="23" textLength="269.75" lengthAdjust="spacingAndGlyphs">Соединительная пластина</tspan></text>
<text font-weight="bold" fill="#111"><tspan x="136.70" y="1267.7" font-size="23" textLength="112.35" lengthAdjust="spacingAndGlyphs">TR5730-AL</tspan></text>
<text fill="#111"><tspan x="110.00" y="1313.3" font-size="23" textLength="19.41" lengthAdjust="spacingAndGlyphs">5.</tspan> <tspan x="136.33" y="1313.3" font-size="23" textLength="348.44" lengthAdjust="spacingAndGlyphs">Прямой электрический коннектор</tspan></text>
<text font-weight="bold" fill="#111"><tspan x="137.30" y="1348.3" font-size="23" textLength="112.26" lengthAdjust="spacingAndGlyphs">TR5722-SB</tspan></text>
<text fill="#111"><tspan x="109.61" y="1394.0" font-size="23" textLength="20.90" lengthAdjust="spacingAndGlyphs">6.</tspan> <tspan x="138.30" y="1394.0" font-size="23" textLength="375.17" lengthAdjust="spacingAndGlyphs">Угловой мехнический коннектор 90°</tspan></text>
<text font-weight="bold" fill="#111"><tspan x="137.30" y="1429.3" font-size="23" textLength="108.95" lengthAdjust="spacingAndGlyphs">TR5731-SB</tspan></text>
<text fill="#111"><tspan x="590.93" y="908.8" font-size="23" textLength="20.56" lengthAdjust="spacingAndGlyphs">7.</tspan> <tspan x="619.20" y="908.8" font-size="23" textLength="393.17" lengthAdjust="spacingAndGlyphs">Угловой электрический коннектор 90°</tspan></text>
<text font-weight="bold" fill="#111"><tspan x="618.00" y="943.2" font-size="23" textLength="112.57" lengthAdjust="spacingAndGlyphs">TR5723-SB</tspan></text>
<text fill="#111"><tspan x="590.08" y="990.0" font-size="23" textLength="21.48" lengthAdjust="spacingAndGlyphs">8.</tspan> <tspan x="619.04" y="990.0" font-size="23" textLength="488.86" lengthAdjust="spacingAndGlyphs">Гибкий электрический коннектор стена-потолок</tspan></text>
<text font-weight="bold" fill="#111"><tspan x="620.00" y="1024.0" font-size="23" textLength="113.37" lengthAdjust="spacingAndGlyphs">TR5724-SB</tspan></text>
<text fill="#111"><tspan x="590.08" y="1071.2" font-size="23" textLength="21.48" lengthAdjust="spacingAndGlyphs">9.</tspan> <tspan x="620.00" y="1071.2" font-size="23" textLength="387.09" lengthAdjust="spacingAndGlyphs">Угловой коннектор 90° стена-потолок</tspan></text>
<text font-weight="bold" fill="#111"><tspan x="620.00" y="1104.8" font-size="23" textLength="111.76" lengthAdjust="spacingAndGlyphs">TR5732-SB</tspan></text>
<text fill="#111"><tspan x="577.75" y="1152.0" font-size="23" textLength="33.72" lengthAdjust="spacingAndGlyphs">10.</tspan> <tspan x="619.85" y="1152.0" font-size="23" textLength="164.74" lengthAdjust="spacingAndGlyphs">Подвод питания</tspan></text>
<text font-weight="bold" fill="#111"><tspan x="620.00" y="1186.0" font-size="23" textLength="108.55" lengthAdjust="spacingAndGlyphs">TR5721-SB</tspan></text>
<text fill="#111"><tspan x="576.85" y="1232.8" font-size="23" textLength="34.74" lengthAdjust="spacingAndGlyphs">11.</tspan> <tspan x="619.86" y="1232.8" font-size="23" textLength="230.94" lengthAdjust="spacingAndGlyphs">Блок питания внешний</tspan></text>
<text font-weight="bold" fill="#111"><tspan x="620.00" y="1267.2" font-size="23" textLength="114.83" lengthAdjust="spacingAndGlyphs">TR5720-BK</tspan></text>
<text fill="#111"><tspan x="576.92" y="1314.0" font-size="23" textLength="34.59" lengthAdjust="spacingAndGlyphs">12.</tspan> <tspan x="619.85" y="1314.0" font-size="23" textLength="358.06" lengthAdjust="spacingAndGlyphs">Блок питания встраиваемый в трек</tspan></text>
<text font-weight="bold" fill="#111"><tspan x="620.00" y="1348.0" font-size="23" textLength="111.76" lengthAdjust="spacingAndGlyphs">TR5739-SB</tspan></text>
<text fill="#111"><tspan x="578.92" y="1395.2" font-size="23" textLength="34.59" lengthAdjust="spacingAndGlyphs">13.</tspan> <tspan x="622.00" y="1395.2" font-size="23" textLength="269.38" lengthAdjust="spacingAndGlyphs">Торцевая заглушка низкая</tspan></text>
<text font-weight="bold" fill="#111"><tspan x="620.00" y="1429.2" font-size="23" textLength="112.57" lengthAdjust="spacingAndGlyphs">TR5735-SB</tspan></text>
<text fill="#111"><tspan x="125.07" y="756.0" font-size="23" textLength="189.53" lengthAdjust="spacingAndGlyphs">Высокая заглушка,</tspan></text>
<text fill="#111"><tspan x="123.30" y="785.5" font-size="23" textLength="193.06" lengthAdjust="spacingAndGlyphs">для использования</tspan></text>
<text fill="#111"><tspan x="167.70" y="813.5" font-size="23" textLength="105.81" lengthAdjust="spacingAndGlyphs">с экраном</tspan></text>
<text fill="#111"><tspan x="139.30" y="841.8" font-size="23" textLength="168.73" lengthAdjust="spacingAndGlyphs">TR5736 / TR5737</tspan></text>
<text fill="#111"><tspan x="394.04" y="761.8" font-size="23" textLength="180.01" lengthAdjust="spacingAndGlyphs">Низкая заглушка,</tspan></text>
<text fill="#111"><tspan x="387.30" y="791.0" font-size="23" textLength="192.36" lengthAdjust="spacingAndGlyphs">для использования</tspan></text>
<text fill="#111"><tspan x="429.72" y="819.6" font-size="23" textLength="112.78" lengthAdjust="spacingAndGlyphs">без экрана</tspan></text>
<text fill="#111"><tspan x="405.00" y="848.2" font-size="23" textLength="168.43" lengthAdjust="spacingAndGlyphs">TR5736 / TR5737</tspan></text>
<text fill="#111"><tspan x="193.29" y="253.6" font-size="23" textLength="16.87" lengthAdjust="spacingAndGlyphs">11</tspan></text>
<text fill="#111"><tspan x="397.62" y="338.6" font-size="23" textLength="12.56" lengthAdjust="spacingAndGlyphs">2</tspan></text>
<text fill="#111"><tspan x="266.84" y="389.6" font-size="23" textLength="7.21" lengthAdjust="spacingAndGlyphs">1</tspan></text>
<text fill="#111"><tspan x="349.13" y="418.6" font-size="23" textLength="22.15" lengthAdjust="spacingAndGlyphs">10</tspan></text>
<text fill="#111"><tspan x="447.60" y="455.0" font-size="23" textLength="11.73" lengthAdjust="spacingAndGlyphs">3</tspan></text>
<text fill="#111"><tspan x="560.40" y="368.6" font-size="23" textLength="11.81" lengthAdjust="spacingAndGlyphs">4</tspan></text>
<text fill="#111"><tspan x="563.00" y="475.0" font-size="23" textLength="11.09" lengthAdjust="spacingAndGlyphs">5</tspan></text>
<text fill="#111"><tspan x="713.40" y="395.4" font-size="23" textLength="12.79" lengthAdjust="spacingAndGlyphs">2</tspan></text>
<text fill="#111"><tspan x="867.23" y="419.9" font-size="23" textLength="13.72" lengthAdjust="spacingAndGlyphs">6</tspan></text>
<text fill="#111"><tspan x="869.67" y="525.7" font-size="23" textLength="11.86" lengthAdjust="spacingAndGlyphs">7</tspan></text>
<text fill="#111"><tspan x="981.77" y="381.8" font-size="23" textLength="13.14" lengthAdjust="spacingAndGlyphs">2</tspan></text>
<text fill="#111"><tspan x="1133.13" y="324.0" font-size="23" textLength="13.72" lengthAdjust="spacingAndGlyphs">6</tspan></text>
<text fill="#111"><tspan x="1134.87" y="438.9" font-size="23" textLength="11.86" lengthAdjust="spacingAndGlyphs">7</tspan></text>
<text fill="#111"><tspan x="1134.87" y="509.9" font-size="23" textLength="11.86" lengthAdjust="spacingAndGlyphs">7</tspan></text>
<text fill="#111"><tspan x="1259.81" y="349.7" font-size="23" textLength="12.68" lengthAdjust="spacingAndGlyphs">2</tspan></text>
<text fill="#111"><tspan x="1393.15" y="382.8" font-size="23" textLength="13.49" lengthAdjust="spacingAndGlyphs">9</tspan></text>
<text fill="#111"><tspan x="1303.91" y="475.0" font-size="23" textLength="13.95" lengthAdjust="spacingAndGlyphs">8</tspan></text>
<text fill="#111"><tspan x="1262.45" y="691.0" font-size="23" textLength="21.83" lengthAdjust="spacingAndGlyphs">10</tspan></text>
<text fill="#111"><tspan x="1324.88" y="796.9" font-size="23" textLength="17.19" lengthAdjust="spacingAndGlyphs">11</tspan></text>
<text fill="#111"><tspan x="1393.87" y="774.8" font-size="23" textLength="11.86" lengthAdjust="spacingAndGlyphs">2</tspan></text>
<text fill="#111"><tspan x="1118.37" y="819.3" font-size="23" textLength="21.18" lengthAdjust="spacingAndGlyphs">12</tspan></text>
<text fill="#111"><tspan x="1214.82" y="819.3" font-size="23" textLength="34.53" lengthAdjust="spacingAndGlyphs">или</tspan></text>
<text fill="#111"><tspan x="1318.58" y="1100.6" font-size="23" textLength="23.44" lengthAdjust="spacingAndGlyphs">13</tspan></text>
</svg>
</body></html>
